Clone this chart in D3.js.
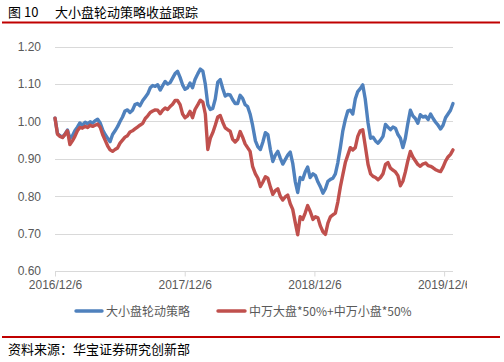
<!DOCTYPE html>
<html><head><meta charset="utf-8">
<script src="https://cdn.jsdelivr.net/npm/d3@7"></script>
<style>
html,body{margin:0;padding:0;background:#fff;}
svg{display:block;}
</style></head>
<body>
<script>
const startDate = "2016-12-06";
const endDate = "2019-12-31";
const xTickLabels = ["2016/12/6","2017/12/6","2018/12/6","2019/12/6"];
const yTicks = [0.60,0.70,0.80,0.90,1.00,1.10,1.20];
const seriesNames = ["大小盘轮动策略","中万大盘*50%+中万小盘*50%"];
const strategy = [1.009,0.968,0.962,0.958,0.966,0.977,0.955,0.962,0.975,0.985,
0.996,0.99,0.998,0.994,0.999,0.996,1.002,1.006,0.996,0.978,
0.965,0.955,0.946,0.965,0.975,0.986,1.0,1.012,1.028,1.031,
1.024,1.03,1.045,1.048,1.042,1.056,1.065,1.074,1.09,1.096,
1.094,1.098,1.084,1.096,1.107,1.1,1.104,1.116,1.128,1.134,
1.118,1.098,1.086,1.09,1.103,1.09,1.112,1.128,1.14,1.135,
1.1,1.045,1.032,1.035,1.06,1.105,1.112,1.088,1.068,1.072,
1.071,1.058,1.048,1.048,1.07,1.062,1.045,1.04,1.02,0.99,
0.948,0.932,0.925,0.945,0.97,0.965,0.925,0.893,0.91,0.92,
0.902,0.886,0.898,0.91,0.918,0.888,0.84,0.81,0.85,0.845,
0.865,0.878,0.85,0.86,0.855,0.838,0.825,0.808,0.82,0.84,
0.845,0.848,0.86,0.89,0.93,0.975,1.005,1.028,1.03,1.02,
1.06,1.08,1.088,1.098,1.06,0.996,0.955,0.958,0.948,0.942,
0.95,0.96,0.992,0.985,0.978,0.985,0.982,0.965,0.955,0.93,
0.955,0.995,1.03,1.015,1.008,0.995,1.018,1.012,1.014,1.005,
1.02,1.008,0.998,0.99,0.98,0.99,1.01,1.02,1.03,1.048];
const benchmark = [1.009,0.966,0.96,0.957,0.965,0.975,0.938,0.948,0.96,0.975,
0.984,0.982,0.987,0.984,0.99,0.987,0.99,0.993,0.985,0.965,
0.95,0.935,0.924,0.92,0.925,0.929,0.942,0.95,0.958,0.962,
0.972,0.975,0.98,0.985,0.99,0.995,1.008,1.015,1.024,1.028,
1.031,1.03,1.021,1.03,1.036,1.032,1.04,1.046,1.056,1.056,
1.045,1.02,1.01,1.015,1.027,1.01,1.032,1.045,1.057,1.052,
1.02,0.925,0.955,0.97,0.99,1.012,1.016,0.998,0.983,0.978,
0.974,0.952,0.945,0.952,0.973,0.958,0.94,0.93,0.92,0.88,
0.86,0.848,0.826,0.838,0.852,0.848,0.825,0.805,0.815,0.82,
0.8,0.79,0.798,0.803,0.78,0.765,0.73,0.697,0.745,0.738,
0.755,0.775,0.76,0.738,0.745,0.742,0.72,0.705,0.698,0.728,
0.745,0.75,0.755,0.785,0.825,0.858,0.89,0.91,0.93,0.924,
0.93,0.96,0.975,0.978,0.935,0.885,0.86,0.853,0.85,0.844,
0.85,0.86,0.885,0.89,0.875,0.87,0.865,0.855,0.828,0.84,
0.865,0.895,0.92,0.905,0.895,0.885,0.88,0.886,0.889,0.882,
0.88,0.876,0.871,0.868,0.866,0.878,0.894,0.905,0.912,0.924];

const W = 504, H = 362;
const parse = d3.timeParse("%Y-%m-%d");
const t0 = parse(startDate), t1 = parse(endDate);
const totalDays = d3.timeDay.count(t0, t1);
const n = strategy.length;
const dates = d3.range(n).map(i => d3.timeDay.offset(t0, Math.round(i * totalDays / (n - 1))));
const tickDates = xTickLabels.map(s => d3.timeParse("%Y/%m/%d")(s));

const svg = d3.select("body").append("svg").attr("width", W).attr("height", H);
const cjk = "'Noto Sans CJK SC', 'Noto Sans', sans-serif";
const lat = "'Liberation Sans', Arial, sans-serif";

// title and rules
svg.append("text").attr("x", 8).attr("y", 17).attr("font-family", cjk).attr("font-size", 13)
  .attr("fill", "#000").text("图 10");
svg.append("text").attr("x", 55).attr("y", 17).attr("font-family", cjk).attr("font-size", 13)
  .attr("fill", "#000").text("大小盘轮动策略收益跟踪");
svg.append("rect").attr("x", 2).attr("y", 21.5).attr("width", 498).attr("height", 2).attr("fill", "#C00000");
svg.append("rect").attr("x", 2).attr("y", 336).attr("width", 498).attr("height", 2).attr("fill", "#C00000");
svg.append("text").attr("x", 8).attr("y", 354).attr("font-family", cjk).attr("font-size", 13)
  .attr("fill", "#000").text("资料来源：华宝证券研究创新部");

const x = d3.scaleTime().domain([t0, t1]).range([55, 453]);
const y = d3.scaleLinear().domain([0.6, 1.2]).range([271, 46.7]);

// gridlines
svg.append("g").selectAll("line").data(yTicks.filter(v => v > 0.6)).join("line")
  .attr("x1", 55).attr("x2", 453).attr("y1", d => Math.round(y(d)) + 0.5).attr("y2", d => Math.round(y(d)) + 0.5)
  .attr("stroke", "#D9D9D9").attr("stroke-width", 1);

// y axis labels
const yAxis = d3.axisLeft(y).tickValues(yTicks).tickFormat(d3.format(".2f")).tickSize(0).tickPadding(0);
const gy = svg.append("g").attr("transform", "translate(41,0)").call(yAxis);
gy.select(".domain").remove();
gy.selectAll("text").attr("font-family", lat).attr("font-size", 12).attr("fill", "#595959");

// x axis (label at right edge is cut off as in the original)
const clip = svg.append("defs").append("clipPath").attr("id", "xc");
clip.append("rect").attr("x", 0).attr("y", -10).attr("width", 467).attr("height", 40);
const xAxis = d3.axisBottom(x).tickValues(tickDates).tickFormat((d, i) => xTickLabels[i]).tickSize(5).tickPadding(4).tickSizeOuter(0);
const gx = svg.append("g").attr("transform", "translate(0,271.5)").attr("clip-path", "url(#xc)").call(xAxis);
gx.select(".domain").attr("stroke", "#D9D9D9").attr("d", "M55,0H453");
gx.selectAll(".tick line").attr("stroke", "#D9D9D9");
gx.selectAll("text").attr("font-family", lat).attr("font-size", 12).attr("fill", "#595959");

// lines
const line = d3.line().x((d, i) => x(dates[i])).y(d => y(d)).curve(d3.curveLinear);
svg.append("path").datum(strategy).attr("d", line).attr("fill", "none")
  .attr("stroke", "#4F81BD").attr("stroke-width", 3.4).attr("stroke-linejoin", "round").attr("stroke-linecap", "round");
svg.append("path").datum(benchmark).attr("d", line).attr("fill", "none")
  .attr("stroke", "#C0504D").attr("stroke-width", 3.4).attr("stroke-linejoin", "round").attr("stroke-linecap", "round");

// legend
const legend = [
  {x1: 76, x2: 102, tx: 106, color: "#4F81BD", name: seriesNames[0]},
  {x1: 218, x2: 245, tx: 249, color: "#C0504D", name: seriesNames[1]}
];
legend.forEach(l => {
  svg.append("line").attr("x1", l.x1).attr("x2", l.x2).attr("y1", 311).attr("y2", 311)
    .attr("stroke", l.color).attr("stroke-width", 3.4).attr("stroke-linecap", "round");
  svg.append("text").attr("x", l.tx).attr("y", 315.5).attr("font-family", cjk).attr("font-size", 12)
    .attr("fill", "#595959").text(l.name);
});
</script>
</body></html>
